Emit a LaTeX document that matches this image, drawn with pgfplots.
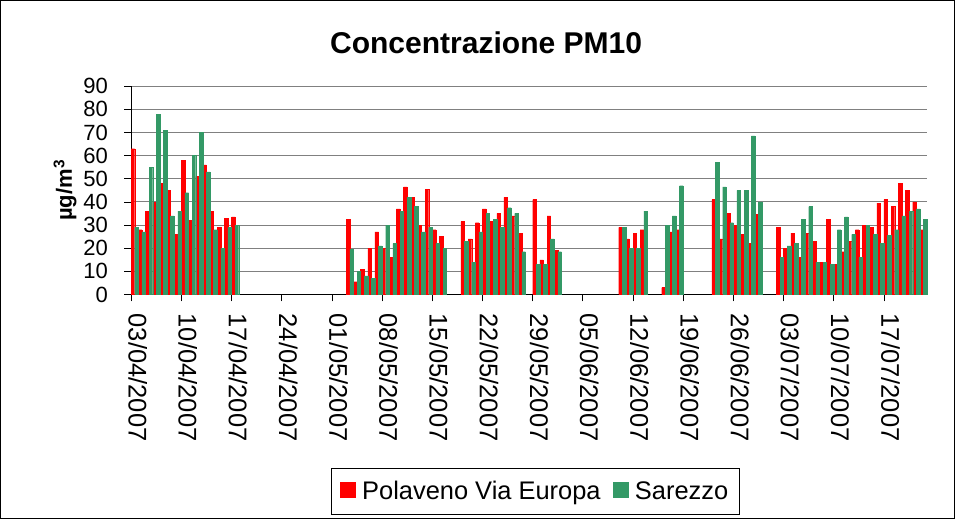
\documentclass[border=0pt]{standalone}
\usepackage{pgfplots}
\usepackage{pgfplotstable}
\pgfplotsset{compat=1.18}
\usepackage{fontspec}
\setmainfont{Liberation Sans}
\definecolor{pred}{RGB}{255,0,0}
\definecolor{sgreen}{RGB}{51,153,102}
\pgfplotstableread{
x r g
0.5 63 29
1.5 28 27
2.5 36 55
3.5 40 78
4.5 48 71
5.5 45 34
6.5 26 36
7.5 58 44
8.5 32 60
9.5 51 70
10.5 56 53
11.5 36 28
12.5 29 20
13.5 33 29
14.5 33.5 30
30.5 32.5 19.5
31.5 5.5 10
32.5 11 8
33.5 20 7
34.5 27 21
35.5 20 30
36.5 16 22
37.5 37 36
38.5 46.5 42
39.5 42 38
40.5 30 27
41.5 45.5 29
42.5 28 22
43.5 25 20
46.5 31.5 23
47.5 24 14
48.5 31 27
49.5 37 35
50.5 31.5 32.5
51.5 35 29
52.5 42 37.5
53.5 34 35
54.5 26.5 18.5
56.5 41 13
57.5 15 13
58.5 34 24
59.5 19 18.5
68.5 29 29
69.5 24 20
70.5 26.5 20
71.5 28 36
74.5 3 30
75.5 27 34
76.5 28 47
81.5 41 57
82.5 24 46.5
83.5 35 31
84.5 30 45
85.5 26 45
86.5 22 68.5
87.5 34.5 40
90.5 29 16
91.5 20 21
92.5 26.5 22
93.5 16 32.5
94.5 26.5 38
95.5 23 14
96.5 14 14
97.5 32.5 13
98.5 13 28
99.5 18.5 33.5
100.5 23 26
101.5 28 16
102.5 30 30
103.5 29 26
104.5 39.5 22
105.5 41 25.5
106.5 38 28
107.5 48 34
108.5 45 36
109.5 40 37
110.5 28 32.5
}\pmdata
\begin{document}
\begin{tikzpicture}
\begin{axis}[
  scale only axis, width=795pt, height=208pt,
  xmin=0, xmax=111, ymin=0, ymax=90,
  clip=false,
  axis x line*=bottom, axis y line*=left,
  axis line style={-, black, line width=0.8pt},
  ytick={0,10,...,90},
  xtick={0,7,...,105},
  xticklabels={03/04/2007,10/04/2007,17/04/2007,24/04/2007,01/05/2007,08/05/2007,15/05/2007,22/05/2007,29/05/2007,05/06/2007,12/06/2007,19/06/2007,26/06/2007,03/07/2007,10/07/2007,17/07/2007},
  ymajorgrids, grid style={line width=1pt, color=gray},
  tick align=outside, major tick length=7pt,
  tick style={black, line width=0.8pt},
  /pgf/number format/assume math mode=true,
  yticklabel style={font=\fontsize{22}{22}\selectfont, inner xsep=16pt},
  xticklabel style={font=\fontsize{25.5}{25.5}\selectfont, rotate=-90, anchor=mid west, inner xsep=12pt},
  title={Concentrazione PM10},
  title style={font=\bfseries\fontsize{30}{30}\selectfont, at={(0.446,1.178)}, anchor=center},
  ylabel={\textbf{µg/m\textsuperscript{3}}},
  ylabel style={font=\bfseries\fontsize{22}{22}\selectfont, at={(-0.083,0.5)}, anchor=center},
  ybar, bar width=0.5,
  legend columns=2,
  legend style={at={(0.5075,-1.058)}, anchor=south, draw=black, line width=0.6pt,
    font=\fontsize{25.4}{25.4}\selectfont, inner xsep=9pt, inner ysep=11pt,
    /tikz/every even column/.append style={column sep=10pt}},
  legend image code/.code={\fill[#1] (0pt,-6pt) rectangle (15pt,9pt); \path (20pt,0pt);},
]
\addplot[fill=pred, draw=pred, line width=0.3pt, bar shift=0pt] table[x expr=\thisrow{x}-0.25, y=r] {\pmdata};
\addlegendentry{Polaveno Via Europa}
\addplot[fill=sgreen, draw=sgreen, line width=0.3pt, bar shift=0pt] table[x expr=\thisrow{x}+0.25, y=g] {\pmdata};
\addlegendentry{Sarezzo}
\draw[black, line width=0.8pt] (rel axis cs:-0.1643,-1.0757) rectangle (rel axis cs:1.0347,1.4123);
\end{axis}
\end{tikzpicture}
\end{document}
